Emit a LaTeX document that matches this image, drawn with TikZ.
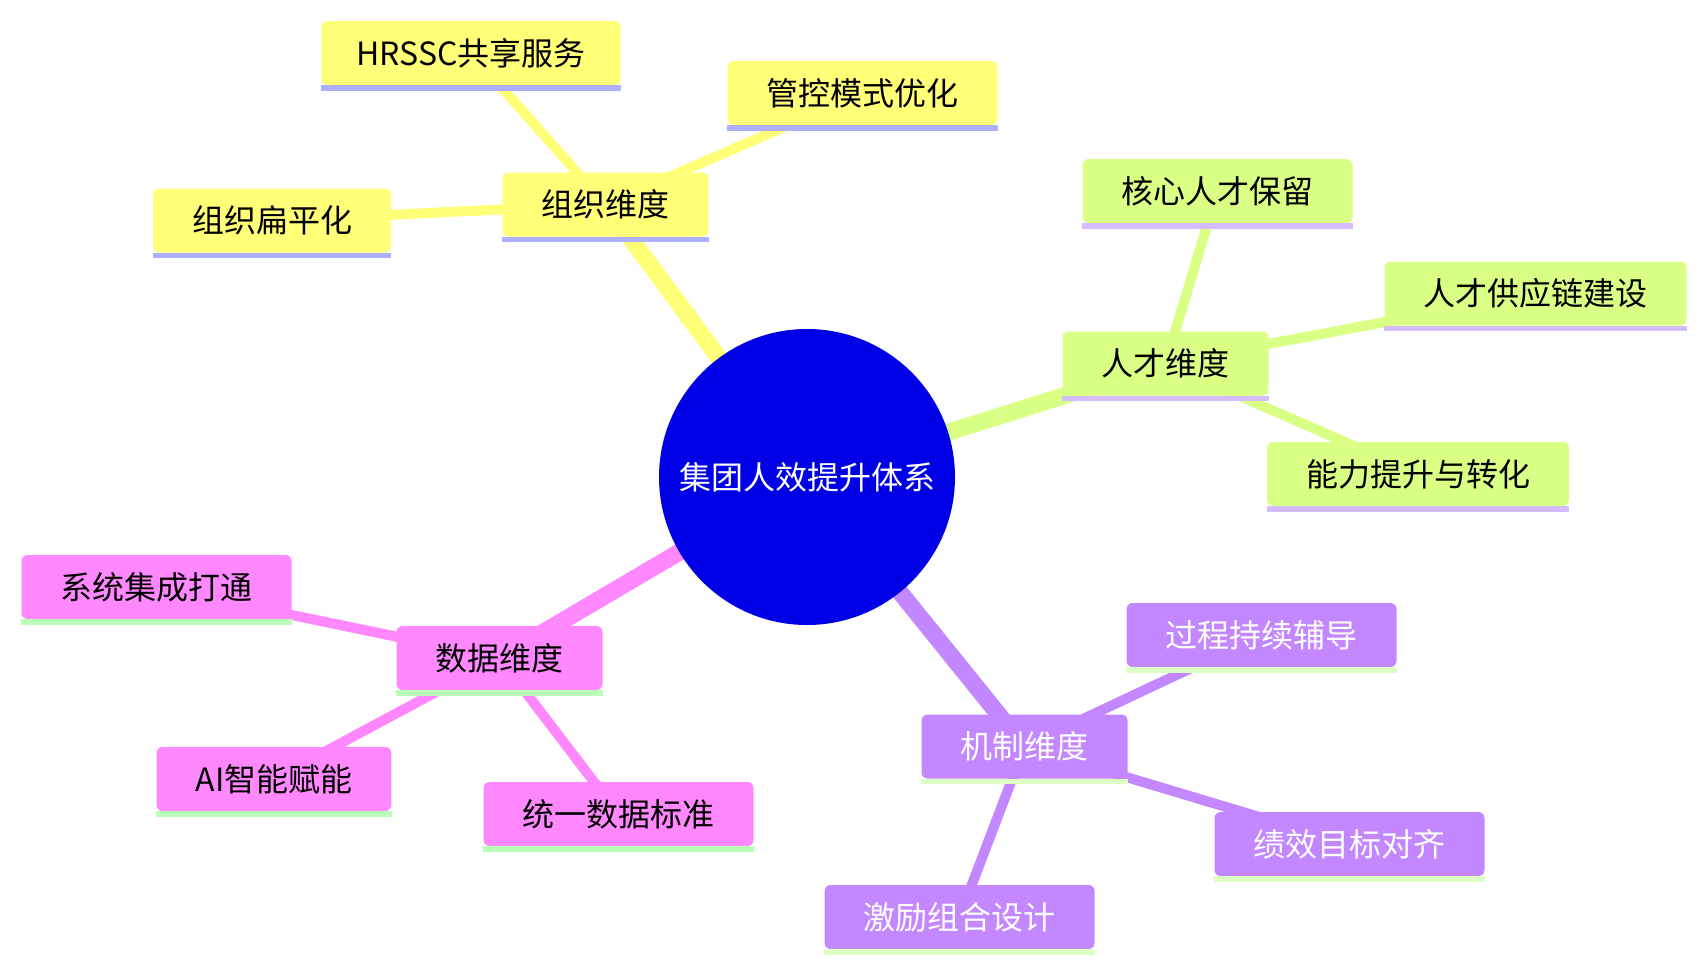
\documentclass[tikz,border=0pt]{standalone}
\usepackage{fontspec}
\setmainfont{Noto Sans CJK SC}
\usetikzlibrary{backgrounds}
\definecolor{cblue}{RGB}{0,0,230}
\definecolor{yfill}{RGB}{255,255,120}
\definecolor{yline}{RGB}{175,175,255}
\definecolor{gfill}{RGB}{218,255,133}
\definecolor{gline}{RGB}{212,188,255}
\definecolor{pfill}{RGB}{255,136,255}
\definecolor{pline}{RGB}{185,255,185}
\definecolor{vfill}{RGB}{195,136,255}
\definecolor{vline}{RGB}{222,255,195}
\begin{document}
\begin{tikzpicture}[x=1pt,y=-1pt,
  box/.style={rounded corners=6pt, minimum height=64pt, inner xsep=39pt, inner ysep=0pt,
    font=\fontsize{32}{36}\selectfont, anchor=center},
  ybox/.style={box, fill=yfill, text=black},
  gbox/.style={box, fill=gfill, text=black},
  pbox/.style={box, fill=pfill, text=black},
  vbox/.style={box, fill=vfill, text=white},
  rootnode/.style={circle, fill=cblue, text=white, minimum size=296pt, inner sep=0pt,
    font=\fontsize{32}{36}\selectfont},
  thick edge/.style={line width=17pt},
  thin edge/.style={line width=10pt}]
\useasboundingbox (0,0) rectangle (1707,972);

\node[rootnode] (c) at (807,477) {集团人效提升体系};

% organisation branch
\node[ybox] (org) at (605.5,204.5) {组织维度};
\node[ybox, inner xsep=35pt] (hr) at (471,53) {HRSSC共享服务};
\node[ybox] (gk) at (862.5,93) {管控模式优化};
\node[ybox] (bp) at (272,220.5) {组织扁平化};

% talent branch
\node[gbox] (tal) at (1165.5,363.5) {人才维度};
\node[gbox] (hx) at (1217.5,191) {核心人才保留};
\node[gbox] (gy) at (1535.5,293.5) {人才供应链建设};
\node[gbox] (nl) at (1418,474) {能力提升与转化};

% data branch
\node[pbox] (dat) at (499.5,658) {数据维度};
\node[pbox] (xt) at (156.5,587) {系统集成打通};
\node[pbox] (ai) at (274,779) {AI智能赋能};
\node[pbox] (ty) at (618.5,814) {统一数据标准};

% mechanism branch
\node[vbox] (mec) at (1024.5,746.5) {机制维度};
\node[vbox] (gc) at (1261.5,635) {过程持续辅导};
\node[vbox] (jx) at (1349.5,844) {绩效目标对齐};
\node[vbox] (jl) at (959.5,917) {激励组合设计};

% underlines
\foreach \n in {org,hr,gk,bp}
  \fill[yline] (\n.south west) rectangle ([yshift=-5.5pt]\n.south east);
\foreach \n in {tal,hx,gy,nl}
  \fill[gline] (\n.south west) rectangle ([yshift=-5.5pt]\n.south east);
\foreach \n in {dat,xt,ai,ty}
  \fill[pline] (\n.south west) rectangle ([yshift=-5.5pt]\n.south east);
\foreach \n in {mec,gc,jx,jl}
  \fill[vline] (\n.south west) rectangle ([yshift=-5.5pt]\n.south east);

\begin{scope}[on background layer]
  \draw[yfill, thick edge] (c.center) -- (org.center);
  \draw[gfill, thick edge] (c.center) -- (tal.center);
  \draw[pfill, thick edge] (c.center) -- (dat.center);
  \draw[vfill, thick edge] (c.center) -- (mec.center);
  \foreach \n in {hr,gk,bp} \draw[yfill, thin edge] (org.center) -- (\n.center);
  \foreach \n in {hx,gy,nl} \draw[gfill, thin edge] (tal.center) -- (\n.center);
  \foreach \n in {xt,ai,ty} \draw[pfill, thin edge] (dat.center) -- (\n.center);
  \foreach \n in {gc,jx,jl} \draw[vfill, thin edge] (mec.center) -- (\n.center);
\end{scope}
\end{tikzpicture}
\end{document}
